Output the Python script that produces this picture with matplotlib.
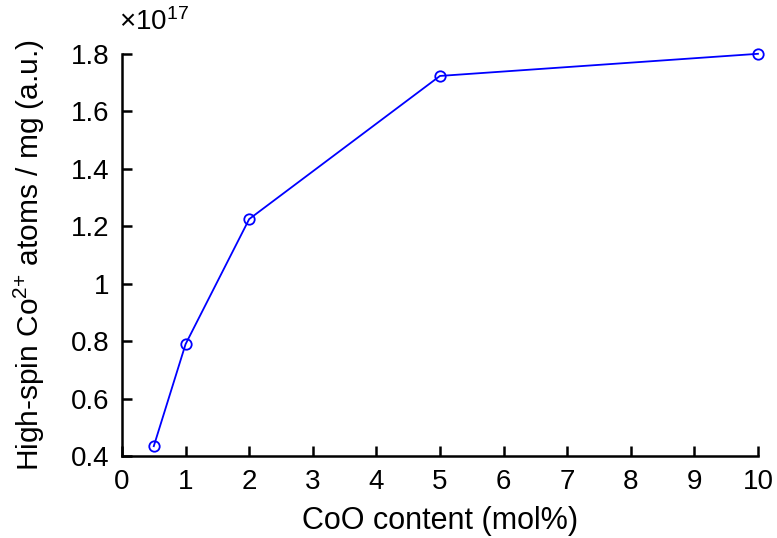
import matplotlib.pyplot as plt

plt.rcParams['font.family'] = ['Liberation Sans', 'DejaVu Sans']

# CoO content (mol%) and high-spin Co2+ atoms per mg (units of 1e17)
coo_content = [0.5, 1, 2, 5, 10]
co_atoms = [0.435, 0.79, 1.225, 1.723, 1.80]

x_ticks = [0, 1, 2, 3, 4, 5, 6, 7, 8, 9, 10]
y_ticks = [0.4, 0.6, 0.8, 1.0, 1.2, 1.4, 1.6, 1.8]
y_tick_labels = ['0.4', '0.6', '0.8', '1', '1.2', '1.4', '1.6', '1.8']

fig = plt.figure(figsize=(7.77, 5.38), dpi=100)
ax = fig.add_axes([0.157, 0.152, 0.8185, 0.748])

ax.plot(coo_content, co_atoms, color='blue', linewidth=1.3, marker='o',
        markersize=7.5, markerfacecolor='none', markeredgewidth=1.3,
        clip_on=False, zorder=3)

ax.set_xlim(0, 10)
ax.set_ylim(0.4, 1.8)
ax.set_xticks(x_ticks)
ax.set_yticks(y_ticks)
ax.set_yticklabels(y_tick_labels)

for side in ['top', 'right']:
    ax.spines[side].set_visible(False)
for side in ['left', 'bottom']:
    ax.spines[side].set_linewidth(1.8)

ax.tick_params(direction='in', length=7, width=1.8, labelsize=20, pad=9)

ax.set_xlabel('CoO content (mol%)', fontsize=22, labelpad=8)
ax.set_ylabel(r'High-spin Co$\mathregular{^{2{+}}}$ atoms / mg (a.u.)',
              fontsize=21.5, labelpad=17)

ax.text(-0.005, 1.045, r'$\mathregular{\times10^{17}}$', transform=ax.transAxes,
        fontsize=20, ha='left', va='bottom')

fig.savefig('out.png', dpi=100)
